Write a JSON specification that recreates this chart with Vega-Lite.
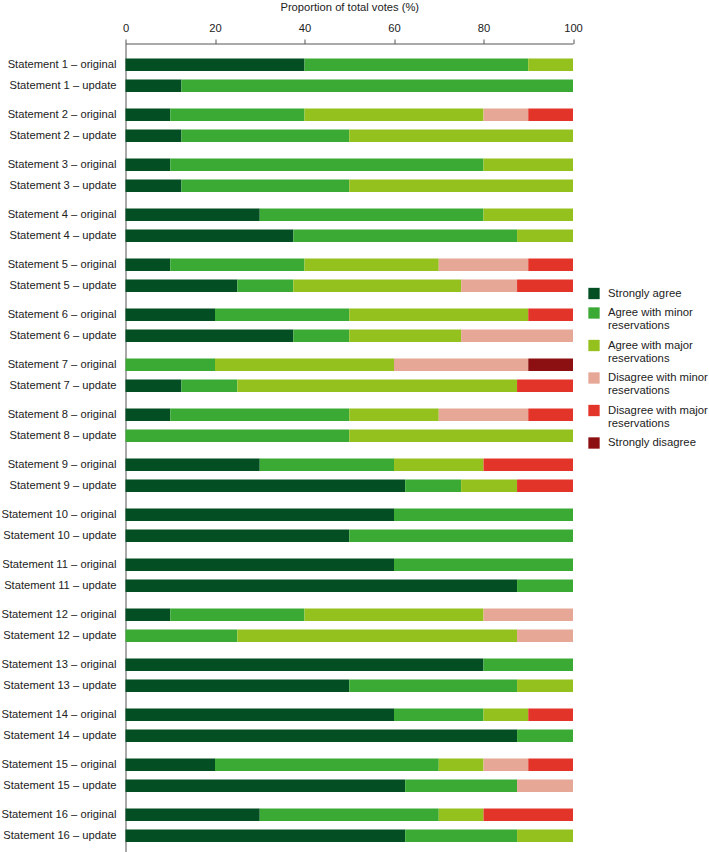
{
  "$schema": "https://vega.github.io/schema/vega-lite/v6.json",
  "autosize": "none",
  "width": 447.5,
  "height": 808.5,
  "padding": {"left": 125.5, "top": 43.5, "right": 136, "bottom": 0},
  "background": "white",
  "config": {
    "font": "Liberation Sans",
    "view": {"stroke": null},
    "axis": {"grid": false}
  },
  "datasets": {
    "responses": [
      {"response": "Strongly agree", "rank": 1},
      {"response": "Agree with minor reservations", "rank": 2},
      {"response": "Agree with major reservations", "rank": 3},
      {"response": "Disagree with minor reservations", "rank": 4},
      {"response": "Disagree with major reservations", "rank": 5},
      {"response": "Strongly disagree", "rank": 6}
    ],
    "votes": [
      {"statement": "Statement 1", "version": "original", "response": "Strongly agree", "percent": 40},
      {"statement": "Statement 1", "version": "original", "response": "Agree with minor reservations", "percent": 50},
      {"statement": "Statement 1", "version": "original", "response": "Agree with major reservations", "percent": 10},
      {"statement": "Statement 1", "version": "update", "response": "Strongly agree", "percent": 12.5},
      {"statement": "Statement 1", "version": "update", "response": "Agree with minor reservations", "percent": 87.5},
      {"statement": "Statement 2", "version": "original", "response": "Strongly agree", "percent": 10},
      {"statement": "Statement 2", "version": "original", "response": "Agree with minor reservations", "percent": 30},
      {"statement": "Statement 2", "version": "original", "response": "Agree with major reservations", "percent": 40},
      {"statement": "Statement 2", "version": "original", "response": "Disagree with minor reservations", "percent": 10},
      {"statement": "Statement 2", "version": "original", "response": "Disagree with major reservations", "percent": 10},
      {"statement": "Statement 2", "version": "update", "response": "Strongly agree", "percent": 12.5},
      {"statement": "Statement 2", "version": "update", "response": "Agree with minor reservations", "percent": 37.5},
      {"statement": "Statement 2", "version": "update", "response": "Agree with major reservations", "percent": 50},
      {"statement": "Statement 3", "version": "original", "response": "Strongly agree", "percent": 10},
      {"statement": "Statement 3", "version": "original", "response": "Agree with minor reservations", "percent": 70},
      {"statement": "Statement 3", "version": "original", "response": "Agree with major reservations", "percent": 20},
      {"statement": "Statement 3", "version": "update", "response": "Strongly agree", "percent": 12.5},
      {"statement": "Statement 3", "version": "update", "response": "Agree with minor reservations", "percent": 37.5},
      {"statement": "Statement 3", "version": "update", "response": "Agree with major reservations", "percent": 50},
      {"statement": "Statement 4", "version": "original", "response": "Strongly agree", "percent": 30},
      {"statement": "Statement 4", "version": "original", "response": "Agree with minor reservations", "percent": 50},
      {"statement": "Statement 4", "version": "original", "response": "Agree with major reservations", "percent": 20},
      {"statement": "Statement 4", "version": "update", "response": "Strongly agree", "percent": 37.5},
      {"statement": "Statement 4", "version": "update", "response": "Agree with minor reservations", "percent": 50},
      {"statement": "Statement 4", "version": "update", "response": "Agree with major reservations", "percent": 12.5},
      {"statement": "Statement 5", "version": "original", "response": "Strongly agree", "percent": 10},
      {"statement": "Statement 5", "version": "original", "response": "Agree with minor reservations", "percent": 30},
      {"statement": "Statement 5", "version": "original", "response": "Agree with major reservations", "percent": 30},
      {"statement": "Statement 5", "version": "original", "response": "Disagree with minor reservations", "percent": 20},
      {"statement": "Statement 5", "version": "original", "response": "Disagree with major reservations", "percent": 10},
      {"statement": "Statement 5", "version": "update", "response": "Strongly agree", "percent": 25},
      {"statement": "Statement 5", "version": "update", "response": "Agree with minor reservations", "percent": 12.5},
      {"statement": "Statement 5", "version": "update", "response": "Agree with major reservations", "percent": 37.5},
      {"statement": "Statement 5", "version": "update", "response": "Disagree with minor reservations", "percent": 12.5},
      {"statement": "Statement 5", "version": "update", "response": "Disagree with major reservations", "percent": 12.5},
      {"statement": "Statement 6", "version": "original", "response": "Strongly agree", "percent": 20},
      {"statement": "Statement 6", "version": "original", "response": "Agree with minor reservations", "percent": 30},
      {"statement": "Statement 6", "version": "original", "response": "Agree with major reservations", "percent": 40},
      {"statement": "Statement 6", "version": "original", "response": "Disagree with major reservations", "percent": 10},
      {"statement": "Statement 6", "version": "update", "response": "Strongly agree", "percent": 37.5},
      {"statement": "Statement 6", "version": "update", "response": "Agree with minor reservations", "percent": 12.5},
      {"statement": "Statement 6", "version": "update", "response": "Agree with major reservations", "percent": 25},
      {"statement": "Statement 6", "version": "update", "response": "Disagree with minor reservations", "percent": 25},
      {"statement": "Statement 7", "version": "original", "response": "Agree with minor reservations", "percent": 20},
      {"statement": "Statement 7", "version": "original", "response": "Agree with major reservations", "percent": 40},
      {"statement": "Statement 7", "version": "original", "response": "Disagree with minor reservations", "percent": 30},
      {"statement": "Statement 7", "version": "original", "response": "Strongly disagree", "percent": 10},
      {"statement": "Statement 7", "version": "update", "response": "Strongly agree", "percent": 12.5},
      {"statement": "Statement 7", "version": "update", "response": "Agree with minor reservations", "percent": 12.5},
      {"statement": "Statement 7", "version": "update", "response": "Agree with major reservations", "percent": 62.5},
      {"statement": "Statement 7", "version": "update", "response": "Disagree with major reservations", "percent": 12.5},
      {"statement": "Statement 8", "version": "original", "response": "Strongly agree", "percent": 10},
      {"statement": "Statement 8", "version": "original", "response": "Agree with minor reservations", "percent": 40},
      {"statement": "Statement 8", "version": "original", "response": "Agree with major reservations", "percent": 20},
      {"statement": "Statement 8", "version": "original", "response": "Disagree with minor reservations", "percent": 20},
      {"statement": "Statement 8", "version": "original", "response": "Disagree with major reservations", "percent": 10},
      {"statement": "Statement 8", "version": "update", "response": "Agree with minor reservations", "percent": 50},
      {"statement": "Statement 8", "version": "update", "response": "Agree with major reservations", "percent": 50},
      {"statement": "Statement 9", "version": "original", "response": "Strongly agree", "percent": 30},
      {"statement": "Statement 9", "version": "original", "response": "Agree with minor reservations", "percent": 30},
      {"statement": "Statement 9", "version": "original", "response": "Agree with major reservations", "percent": 20},
      {"statement": "Statement 9", "version": "original", "response": "Disagree with major reservations", "percent": 20},
      {"statement": "Statement 9", "version": "update", "response": "Strongly agree", "percent": 62.5},
      {"statement": "Statement 9", "version": "update", "response": "Agree with minor reservations", "percent": 12.5},
      {"statement": "Statement 9", "version": "update", "response": "Agree with major reservations", "percent": 12.5},
      {"statement": "Statement 9", "version": "update", "response": "Disagree with major reservations", "percent": 12.5},
      {"statement": "Statement 10", "version": "original", "response": "Strongly agree", "percent": 60},
      {"statement": "Statement 10", "version": "original", "response": "Agree with minor reservations", "percent": 40},
      {"statement": "Statement 10", "version": "update", "response": "Strongly agree", "percent": 50},
      {"statement": "Statement 10", "version": "update", "response": "Agree with minor reservations", "percent": 50},
      {"statement": "Statement 11", "version": "original", "response": "Strongly agree", "percent": 60},
      {"statement": "Statement 11", "version": "original", "response": "Agree with minor reservations", "percent": 40},
      {"statement": "Statement 11", "version": "update", "response": "Strongly agree", "percent": 87.5},
      {"statement": "Statement 11", "version": "update", "response": "Agree with minor reservations", "percent": 12.5},
      {"statement": "Statement 12", "version": "original", "response": "Strongly agree", "percent": 10},
      {"statement": "Statement 12", "version": "original", "response": "Agree with minor reservations", "percent": 30},
      {"statement": "Statement 12", "version": "original", "response": "Agree with major reservations", "percent": 40},
      {"statement": "Statement 12", "version": "original", "response": "Disagree with minor reservations", "percent": 20},
      {"statement": "Statement 12", "version": "update", "response": "Agree with minor reservations", "percent": 25},
      {"statement": "Statement 12", "version": "update", "response": "Agree with major reservations", "percent": 62.5},
      {"statement": "Statement 12", "version": "update", "response": "Disagree with minor reservations", "percent": 12.5},
      {"statement": "Statement 13", "version": "original", "response": "Strongly agree", "percent": 80},
      {"statement": "Statement 13", "version": "original", "response": "Agree with minor reservations", "percent": 20},
      {"statement": "Statement 13", "version": "update", "response": "Strongly agree", "percent": 50},
      {"statement": "Statement 13", "version": "update", "response": "Agree with minor reservations", "percent": 37.5},
      {"statement": "Statement 13", "version": "update", "response": "Agree with major reservations", "percent": 12.5},
      {"statement": "Statement 14", "version": "original", "response": "Strongly agree", "percent": 60},
      {"statement": "Statement 14", "version": "original", "response": "Agree with minor reservations", "percent": 20},
      {"statement": "Statement 14", "version": "original", "response": "Agree with major reservations", "percent": 10},
      {"statement": "Statement 14", "version": "original", "response": "Disagree with major reservations", "percent": 10},
      {"statement": "Statement 14", "version": "update", "response": "Strongly agree", "percent": 87.5},
      {"statement": "Statement 14", "version": "update", "response": "Agree with minor reservations", "percent": 12.5},
      {"statement": "Statement 15", "version": "original", "response": "Strongly agree", "percent": 20},
      {"statement": "Statement 15", "version": "original", "response": "Agree with minor reservations", "percent": 50},
      {"statement": "Statement 15", "version": "original", "response": "Agree with major reservations", "percent": 10},
      {"statement": "Statement 15", "version": "original", "response": "Disagree with minor reservations", "percent": 10},
      {"statement": "Statement 15", "version": "original", "response": "Disagree with major reservations", "percent": 10},
      {"statement": "Statement 15", "version": "update", "response": "Strongly agree", "percent": 62.5},
      {"statement": "Statement 15", "version": "update", "response": "Agree with minor reservations", "percent": 25},
      {"statement": "Statement 15", "version": "update", "response": "Disagree with minor reservations", "percent": 12.5},
      {"statement": "Statement 16", "version": "original", "response": "Strongly agree", "percent": 30},
      {"statement": "Statement 16", "version": "original", "response": "Agree with minor reservations", "percent": 40},
      {"statement": "Statement 16", "version": "original", "response": "Agree with major reservations", "percent": 10},
      {"statement": "Statement 16", "version": "original", "response": "Disagree with major reservations", "percent": 20},
      {"statement": "Statement 16", "version": "update", "response": "Strongly agree", "percent": 62.5},
      {"statement": "Statement 16", "version": "update", "response": "Agree with minor reservations", "percent": 25},
      {"statement": "Statement 16", "version": "update", "response": "Agree with major reservations", "percent": 12.5}
    ],
    "labels": [
      {"statement": "Statement 1", "version": "original", "label": "Statement 1 – original"},
      {"statement": "Statement 1", "version": "update", "label": "Statement 1 – update"},
      {"statement": "Statement 2", "version": "original", "label": "Statement 2 – original"},
      {"statement": "Statement 2", "version": "update", "label": "Statement 2 – update"},
      {"statement": "Statement 3", "version": "original", "label": "Statement 3 – original"},
      {"statement": "Statement 3", "version": "update", "label": "Statement 3 – update"},
      {"statement": "Statement 4", "version": "original", "label": "Statement 4 – original"},
      {"statement": "Statement 4", "version": "update", "label": "Statement 4 – update"},
      {"statement": "Statement 5", "version": "original", "label": "Statement 5 – original"},
      {"statement": "Statement 5", "version": "update", "label": "Statement 5 – update"},
      {"statement": "Statement 6", "version": "original", "label": "Statement 6 – original"},
      {"statement": "Statement 6", "version": "update", "label": "Statement 6 – update"},
      {"statement": "Statement 7", "version": "original", "label": "Statement 7 – original"},
      {"statement": "Statement 7", "version": "update", "label": "Statement 7 – update"},
      {"statement": "Statement 8", "version": "original", "label": "Statement 8 – original"},
      {"statement": "Statement 8", "version": "update", "label": "Statement 8 – update"},
      {"statement": "Statement 9", "version": "original", "label": "Statement 9 – original"},
      {"statement": "Statement 9", "version": "update", "label": "Statement 9 – update"},
      {"statement": "Statement 10", "version": "original", "label": "Statement 10 – original"},
      {"statement": "Statement 10", "version": "update", "label": "Statement 10 – update"},
      {"statement": "Statement 11", "version": "original", "label": "Statement 11 – original"},
      {"statement": "Statement 11", "version": "update", "label": "Statement 11 – update"},
      {"statement": "Statement 12", "version": "original", "label": "Statement 12 – original"},
      {"statement": "Statement 12", "version": "update", "label": "Statement 12 – update"},
      {"statement": "Statement 13", "version": "original", "label": "Statement 13 – original"},
      {"statement": "Statement 13", "version": "update", "label": "Statement 13 – update"},
      {"statement": "Statement 14", "version": "original", "label": "Statement 14 – original"},
      {"statement": "Statement 14", "version": "update", "label": "Statement 14 – update"},
      {"statement": "Statement 15", "version": "original", "label": "Statement 15 – original"},
      {"statement": "Statement 15", "version": "update", "label": "Statement 15 – update"},
      {"statement": "Statement 16", "version": "original", "label": "Statement 16 – original"},
      {"statement": "Statement 16", "version": "update", "label": "Statement 16 – update"}
    ]
  },
  "encoding": {
    "y": {
      "field": "statement",
      "type": "nominal",
      "scale": {
        "domain": ["Statement 1", "Statement 2", "Statement 3", "Statement 4", "Statement 5", "Statement 6", "Statement 7", "Statement 8", "Statement 9", "Statement 10", "Statement 11", "Statement 12", "Statement 13", "Statement 14", "Statement 15", "Statement 16"],
        "paddingInner": 0.16,
        "paddingOuter": 0.165,
        "align": 0.65
      },
      "axis": {"title": null, "labels": false, "ticks": false, "domain": true, "domainColor": "#555555", "domainWidth": 1}
    },
    "yOffset": {
      "field": "version",
      "type": "nominal",
      "scale": {"domain": ["original", "update"], "paddingInner": 0.405, "paddingOuter": 0.2025}
    }
  },
  "layer": [
    {
      "data": {"name": "votes"},
      "transform": [
        {"lookup": "response", "from": {"data": {"name": "responses"}, "key": "response", "fields": ["rank"]}}
      ],
      "mark": {"type": "bar", "strokeWidth": 0},
      "encoding": {
        "x": {
          "field": "percent",
          "type": "quantitative",
          "stack": "zero",
          "scale": {"domain": [0, 100], "nice": false},
          "axis": {
            "orient": "top",
            "title": "Proportion of total votes (%)",
            "titleFontSize": 11.2,
            "titleFontWeight": "normal",
            "titleColor": "#222222",
            "titlePadding": 10,
            "values": [0, 20, 40, 60, 80, 100],
            "labelFontSize": 11.2,
            "labelColor": "#222222",
            "labelPadding": 5.5,
            "labelFlush": false,
            "tickSize": 4.5,
            "tickColor": "#555555",
            "domainColor": "#555555",
            "grid": false
          }
        },
        "order": {"field": "rank", "type": "quantitative", "sort": "ascending"},
        "color": {
          "field": "response",
          "type": "nominal",
          "sort": ["Strongly agree", "Agree with minor reservations", "Agree with major reservations", "Disagree with minor reservations", "Disagree with major reservations", "Strongly disagree"],
          "scale": {
            "domain": ["Strongly agree", "Agree with minor reservations", "Agree with major reservations", "Disagree with minor reservations", "Disagree with major reservations", "Strongly disagree"],
            "range": ["#034e23", "#3aaa35", "#95c11f", "#e6a796", "#e3342a", "#8c0f12"]
          },
          "legend": {
            "title": null,
            "orient": "none",
            "legendX": 462.5,
            "legendY": 244,
            "padding": 0,
            "symbolType": "square",
            "symbolSize": 128,
            "symbolStrokeWidth": 0,
            "symbolOpacity": 1,
            "labelFontSize": 11.3,
            "labelLineHeight": 13.4,
            "labelColor": "#222222",
            "labelOffset": 8,
            "labelLimit": 200,
            "rowPadding": 7.5,
            "labelExpr": "indexof(datum.label, ' reservations') > 0 ? [replace(datum.label, ' reservations', ''), 'reservations'] : datum.label"
          }
        }
      }
    },
    {
      "data": {"name": "labels"},
      "mark": {"type": "text", "align": "right", "baseline": "middle", "dx": -9, "fontSize": 11.2, "color": "#222222"},
      "encoding": {
        "x": {"datum": 0, "type": "quantitative"},
        "text": {"field": "label"}
      }
    }
  ]
}
